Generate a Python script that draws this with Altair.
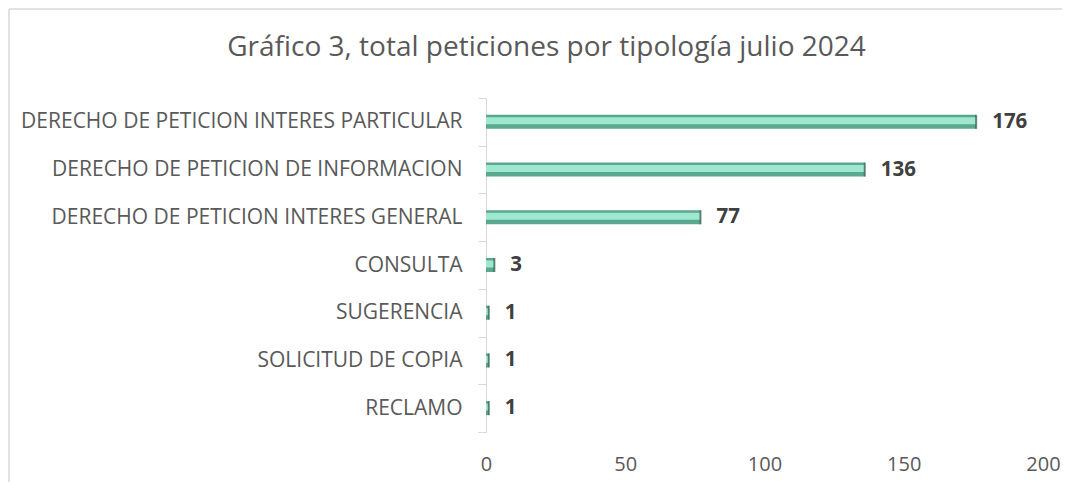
import altair as alt
import pandas as pd

categories = [
    "DERECHO DE PETICION INTERES PARTICULAR",
    "DERECHO DE PETICION DE INFORMACION",
    "DERECHO DE PETICION INTERES GENERAL",
    "CONSULTA",
    "SUGERENCIA",
    "SOLICITUD DE COPIA",
    "RECLAMO",
]
values = [176, 136, 77, 3, 1, 1, 1]
x_ticks = [0, 50, 100, 150, 200]
title_text = "Gráfico 3, total peticiones por tipología julio 2024"

df = pd.DataFrame({"cat": categories, "val": values})

FONT = "Open Sans"
GRAY = "#d9d9d9"

y_enc = alt.Y(
    "cat:N",
    sort=categories,
    title=None,
    scale=alt.Scale(paddingInner=0, paddingOuter=0),
    axis=alt.Axis(
        domainColor=GRAY,
        tickColor=GRAY,
        tickBand="extent",
        tickSize=8,
        labelPadding=16,
        labelFont=FONT,
        labelFontSize=21,
        labelColor="#595959",
        labelLimit=600,
    ),
)
x_enc = alt.X(
    "val:Q",
    title=None,
    scale=alt.Scale(domain=[0, 200], nice=False),
    axis=alt.Axis(
        values=x_ticks,
        domain=False,
        ticks=False,
        grid=False,
        labelFlush=False,
        labelPadding=22,
        labelFont=FONT,
        labelFontSize=20,
        labelColor="#595959",
    ),
)

base = alt.Chart(df).encode(y=y_enc, x=x_enc)

bar_dark = base.mark_bar(color="#5aa88f", size=14)
bar_light = base.mark_bar(color="#9ee8cf", size=7, yOffset=-1)
end_cap = base.mark_tick(color="#2d5a4d", thickness=2, size=14, orient="vertical")
labels = base.mark_text(
    align="left", baseline="middle", dx=16, font=FONT, fontSize=20.5,
    fontWeight="bold", color="#404040"
).encode(text="val:Q")

frame_df = pd.DataFrame({"k": [0]})
frame_left = alt.Chart(frame_df).mark_rule(color=GRAY, strokeWidth=1.5).encode(
    x=alt.value(-477), y=alt.value(-89), y2=alt.value(400)
)
frame_top = alt.Chart(frame_df).mark_rule(color=GRAY, strokeWidth=1.5).encode(
    x=alt.value(-477), x2=alt.value(600), y=alt.value(-89)
)

chart = (
    alt.layer(frame_left, frame_top, bar_dark, bar_light, end_cap, labels)
    .properties(
        width=557,
        height=334,
        padding={"left": 478, "top": 90, "right": 19, "bottom": 50},
        autosize=alt.AutoSizeParams(type="none"),
        title=alt.TitleParams(
            title_text,
            font=FONT,
            fontSize=28,
            fontWeight="normal",
            color="#595959",
            anchor="middle",
            frame="group",
            dx=-218,
            offset=-54,
        ),
    )
    .configure_view(stroke=None)
)

chart.save("out.html", embed_options={"renderer": "svg", "actions": False})
